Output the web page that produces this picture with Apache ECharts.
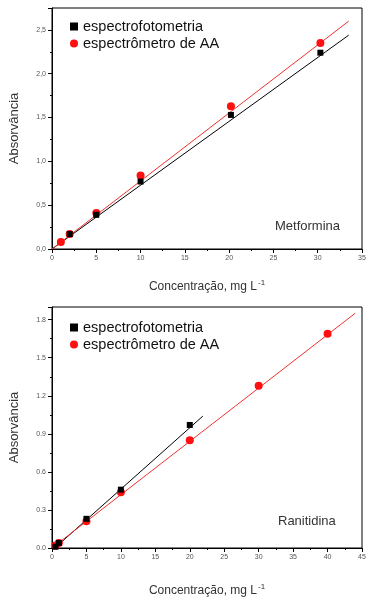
<!DOCTYPE html>
<html>
<head>
<meta charset="utf-8">
<script src="https://cdn.jsdelivr.net/npm/echarts@6/dist/echarts.min.js"></script>
<style>
  html, body { margin: 0; padding: 0; background: #fff; }
  #chart { width: 372px; height: 605px; }
</style>
</head>
<body>
<div id="chart"></div>
<script>
// Metformina (top)
const metX = [2, 5, 10, 20.2, 30.3];
const metEspectro = [0.17, 0.39, 0.77, 1.53, 2.24];
const metAAx = [1, 2, 5, 10, 20.2, 30.3];
const metAA = [0.08, 0.17, 0.41, 0.84, 1.63, 2.35];
const metFitEspectroX = [0, 33.5];
const metFitEspectroY = [0, 2.44];
const metFitAAX = [0, 33.5];
const metFitAAY = [0, 2.6];

// Ranitidina (bottom)
const ranX = [0.5, 1, 5, 10, 20];
const ranEspectro = [0.01, 0.04, 0.23, 0.46, 0.97];
const ranAAx = [0.5, 1, 5, 10, 20, 30, 40];
const ranAA = [0.02, 0.04, 0.21, 0.44, 0.85, 1.28, 1.69];
const ranFitEspectroX = [0.4, 21.9];
const ranFitEspectroY = [0, 1.04];
const ranFitAAX = [0, 44];
const ranFitAAY = [0, 1.85];

const zip = (xs, ys) => xs.map((x, i) => [x, ys[i]]);

const NAME_A = "espectrofotometria";
const NAME_B = "espectrômetro de AA";
const RED = "#ff1010";

function xAxisCfg(idx, max) {
  return {
    gridIndex: idx,
    type: "value",
    min: 0,
    max: max,
    interval: 5,
    name: "Concentração, mg L{sup|-1}",
    nameLocation: "middle",
    nameGap: idx === 0 ? 30 : 35,
    nameTextStyle: {
      fontSize: 12,
      color: "#333",
      fontFamily: "Liberation Sans",
      rich: { sup: { fontSize: 8, color: "#333", padding: [0, 0, 8, 1] } }
    },
    axisLine: { lineStyle: { color: "#000", width: 1 } },
    axisTick: { show: true, inside: false, length: 4, lineStyle: { color: "#000" } },
    minorTick: { show: true, splitNumber: 2, length: 2, lineStyle: { color: "#000" } },
    axisLabel: { fontSize: 7, color: "#555", margin: 6 },
    splitLine: { show: false }
  };
}

function yAxisCfg(idx, max, interval, comma) {
  return {
    gridIndex: idx,
    type: "value",
    min: 0,
    max: max,
    interval: interval,
    name: "Absorvância",
    nameLocation: "middle",
    nameGap: 31,
    nameTextStyle: { fontSize: 13, color: "#333", fontFamily: "Liberation Sans" },
    axisLine: { lineStyle: { color: "#000", width: 1 } },
    axisTick: { show: true, inside: false, length: 4, lineStyle: { color: "#000" } },
    minorTick: { show: true, splitNumber: 2, length: 2, lineStyle: { color: "#000" } },
    axisLabel: {
      fontSize: 7,
      color: "#555",
      margin: 6,
      showMaxLabel: false,
      formatter: function (v) {
        const s = v.toFixed(1);
        return comma ? s.replace(".", ",") : s;
      }
    },
    splitLine: { show: false }
  };
}

function seriesFor(idx, ax, ay, bx, by, fax, fay, fbx, fby) {
  return [
    {
      name: NAME_A, type: "scatter", xAxisIndex: idx, yAxisIndex: idx,
      symbol: "rect", symbolSize: 6, itemStyle: { color: "#000", opacity: 1 },
      data: zip(ax, ay), z: 5
    },
    {
      name: NAME_B, type: "scatter", xAxisIndex: idx, yAxisIndex: idx,
      symbol: "circle", symbolSize: 8, itemStyle: { color: RED, opacity: 1 },
      data: zip(bx, by), z: 4
    },
    {
      name: "ajuste A", type: "line", xAxisIndex: idx, yAxisIndex: idx,
      showSymbol: false, lineStyle: { color: "#000", width: 1 },
      data: zip(fax, fay), z: 3
    },
    {
      name: "ajuste B", type: "line", xAxisIndex: idx, yAxisIndex: idx,
      showSymbol: false, lineStyle: { color: "#f03030", width: 1 },
      data: zip(fbx, fby), z: 3
    }
  ];
}

function legendCfg(top) {
  return {
    data: [
      { name: NAME_A, icon: "rect", itemStyle: { color: "#000", opacity: 1 } },
      { name: NAME_B, icon: "circle", itemStyle: { color: RED, opacity: 1 } }
    ],
    orient: "vertical",
    left: 65,
    top: top,
    itemWidth: 8,
    itemHeight: 8,
    itemGap: 2,
    textStyle: { fontSize: 14.5, color: "#111", fontFamily: "Liberation Sans" }
  };
}

const chart = echarts.init(document.getElementById("chart"), null, { renderer: "canvas" });

chart.setOption({
  animation: false,
  backgroundColor: "#fff",
  title: [
    {
      text: "Metformina", left: 270, top: 215,
      textStyle: { fontSize: 13, fontWeight: "normal", color: "#333", fontFamily: "Liberation Sans" }
    },
    {
      text: "Ranitidina", left: 273, top: 510,
      textStyle: { fontSize: 13, fontWeight: "normal", color: "#333", fontFamily: "Liberation Sans" }
    }
  ],
  legend: [legendCfg(14), legendCfg(315)],
  grid: [
    { left: 48, right: 10, top: 8, height: 241, show: true, borderColor: "#000", borderWidth: 1 },
    { left: 48, right: 10, top: 307, height: 241, show: true, borderColor: "#000", borderWidth: 1 }
  ],
  xAxis: [xAxisCfg(0, 35), xAxisCfg(1, 45)],
  yAxis: [yAxisCfg(0, 2.75, 0.5, true), yAxisCfg(1, 1.9, 0.3, false)],
  series: [].concat(
    seriesFor(0, metX, metEspectro, metAAx, metAA,
      metFitEspectroX, metFitEspectroY, metFitAAX, metFitAAY),
    seriesFor(1, ranX, ranEspectro, ranAAx, ranAA,
      ranFitEspectroX, ranFitEspectroY, ranFitAAX, ranFitAAY)
  )
});
</script>
</body>
</html>
